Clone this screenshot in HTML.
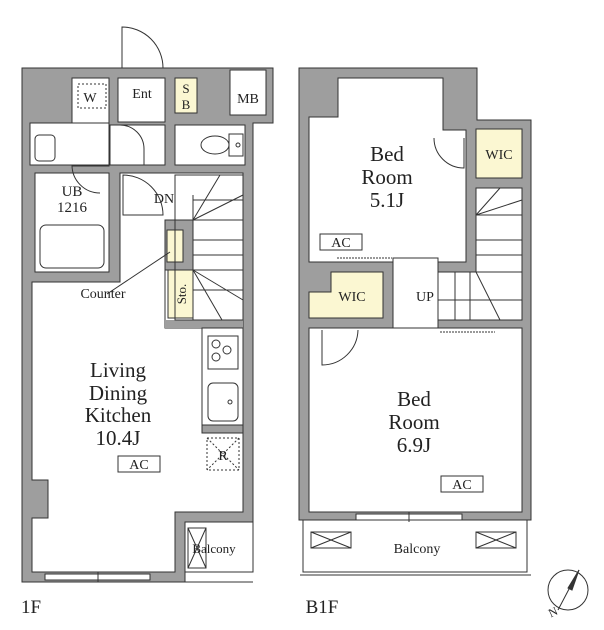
<!DOCTYPE html>
<html><head><meta charset="utf-8"><style>
html,body{margin:0;padding:0;background:#fff;}
svg{display:block;font-family:"Liberation Serif",serif;}
</style></head><body>
<svg width="604" height="630" viewBox="0 0 604 630" xmlns="http://www.w3.org/2000/svg">
<g stroke="#333" stroke-width="1">
<!-- 1F walls -->
<polygon points="22,68 273,68 273,123 253,123 253,522 185,522 185,582 22,582" fill="#9e9e9e"/>
<!-- rooms 1F -->
<rect x="72" y="78" width="37" height="88" fill="#fff"/>
<rect x="30" y="123" width="79" height="42" fill="#fff"/>
<rect x="118" y="78" width="47" height="44" fill="#fff"/>
<rect x="110" y="125" width="55" height="40" fill="#fff"/>
<rect x="175" y="78" width="22" height="35" fill="#fbf7d2"/>
<rect x="230" y="70" width="36" height="45" fill="#fff"/>
<rect x="175" y="125" width="70" height="40" fill="#fff"/>
<rect x="35" y="173" width="74" height="99" fill="#fff"/>
<polygon points="120,173 243,173 243,328 165,328 165,282 32,282 32,480 48,480 48,518 32,518 32,572 175,572 175,512 243,512 243,320 120,320" fill="#fff" stroke="none"/>
<polygon points="120,173 243,173 243,512 175,512 175,572 32,572 32,518 48,518 48,480 32,480 32,282 120,282" fill="#fff"/>
<rect x="165" y="220" width="28" height="50" fill="#9e9e9e"/>
<rect x="167" y="230" width="16" height="32" fill="#fbf7d2"/>
<rect x="168" y="270" width="25" height="48" fill="#fbf7d2"/>
<polyline points="165,270 165,328 243,328" fill="none"/>
<rect x="165" y="320" width="78" height="8" fill="#9e9e9e" stroke="none"/>
<rect x="202" y="328" width="41" height="97" fill="#fff"/>
<rect x="202" y="425" width="41" height="8" fill="#9e9e9e"/>
<rect x="208" y="336" width="30" height="33" fill="#fff"/>
<circle cx="216" cy="344" r="4" fill="none"/><circle cx="227" cy="350" r="4" fill="none"/><circle cx="216" cy="357" r="4" fill="none"/>
<rect x="208" y="383" width="30" height="38" rx="5" fill="#fff"/>
<circle cx="230" cy="402" r="2" fill="none"/>
<rect x="207" y="438" width="32" height="32" fill="none" stroke-dasharray="2,2"/>
<line x1="207" y1="438" x2="239" y2="470" stroke-dasharray="2,2"/><line x1="239" y1="438" x2="207" y2="470" stroke-dasharray="2,2"/>
<!-- balcony 1F -->
<rect x="185" y="522" width="68" height="50" fill="#fff"/>
<rect x="188" y="528" width="18" height="40" fill="none"/>
<line x1="188" y1="528" x2="206" y2="568"/><line x1="206" y1="528" x2="188" y2="568"/>
<line x1="185" y1="582" x2="253" y2="582"/>
<rect x="45" y="574" width="105" height="6" fill="#fff"/>
<line x1="98" y1="572" x2="98" y2="582"/>
<!-- UB tub -->
<rect x="40" y="225" width="64" height="43" rx="6" fill="#fff"/>
<rect x="35" y="135" width="20" height="26" rx="4" fill="#fff"/>
<rect x="78" y="84" width="28" height="24" fill="none" stroke-dasharray="2,2"/>
<!-- toilet -->
<ellipse cx="215" cy="145" rx="14" ry="9" fill="#fff"/>
<rect x="229" y="134" width="14" height="22" fill="#fff"/>
<circle cx="238" cy="145" r="2" fill="none"/>
<!-- doors 1F -->
<path d="M122,68 L122,27 A41,41 0 0 1 163,68" fill="none"/>
<path d="M120,125 A24,24 0 0 1 144,149" fill="none"/>
<path d="M144,149 L144,165" fill="none"/>
<path d="M123,215 L123,175 A40,40 0 0 1 163,215 Z" fill="none"/>
<path d="M72,165 A28,28 0 0 0 100,193" fill="none"/>
<!-- stairs 1F -->
<g fill="none">
<rect x="175" y="175" width="68" height="145"/>
<line x1="193" y1="200" x2="243" y2="200"/><line x1="193" y1="220" x2="243" y2="220"/>
<line x1="193" y1="240" x2="243" y2="240"/><line x1="193" y1="255" x2="243" y2="255"/>
<line x1="193" y1="270" x2="243" y2="270"/><line x1="193" y1="290" x2="243" y2="290"/>
<line x1="193" y1="220" x2="220" y2="175"/><line x1="193" y1="220" x2="243" y2="195"/>
<line x1="193" y1="270" x2="243" y2="300"/><line x1="193" y1="270" x2="222" y2="320"/>
<line x1="193" y1="195" x2="193" y2="320"/>
</g>
<!-- B1F -->
<polygon points="299,68 477,68 477,120 531,120 531,520 299,520" fill="#9e9e9e"/>
<polygon points="309,117 338,117 338,78 443,78 443,130 466,130 466,262 309,262" fill="#fff"/>
<rect x="476" y="129" width="46" height="49" fill="#fbf7d2"/>
<rect x="476" y="188" width="46" height="132" fill="#fff"/>
<rect x="393" y="258" width="45" height="72" fill="#fff"/>
<rect x="438" y="272" width="84" height="48" fill="#fff"/>
<polygon points="309,292 331,292 331,272 383,272 383,318 309,318" fill="#fbf7d2"/>
<rect x="309" y="328" width="213" height="184" fill="#fff"/>
<g fill="none">
<line x1="476" y1="215" x2="522" y2="215"/><line x1="476" y1="240" x2="522" y2="240"/>
<line x1="476" y1="255" x2="522" y2="255"/><line x1="476" y1="272" x2="522" y2="272"/>
<line x1="455" y1="272" x2="455" y2="320"/><line x1="470" y1="272" x2="470" y2="320"/>
<line x1="438" y1="300" x2="522" y2="300"/>
<line x1="476" y1="215" x2="500" y2="188"/><line x1="476" y1="215" x2="522" y2="200"/>
<line x1="476" y1="272" x2="500" y2="320"/>
<path d="M434,138 A30,30 0 0 0 464,168 L464,138"/>
<path d="M322,330 L322,365 A36,36 0 0 0 358,330"/>
<line x1="337" y1="258" x2="392" y2="258" stroke-dasharray="2,1"/>
<line x1="440" y1="332" x2="495" y2="332" stroke-dasharray="2,1"/>
</g>
<rect x="303" y="520" width="224" height="52" fill="#fff"/>
<line x1="300" y1="575" x2="531" y2="575"/>
<rect x="356" y="514" width="106" height="6" fill="#fff"/>
<line x1="409" y1="512" x2="409" y2="522"/>
<rect x="311" y="532" width="40" height="16" fill="none"/>
<line x1="311" y1="532" x2="351" y2="548"/><line x1="351" y1="532" x2="311" y2="548"/>
<rect x="476" y="532" width="40" height="16" fill="none"/>
<line x1="476" y1="532" x2="516" y2="548"/><line x1="516" y1="532" x2="476" y2="548"/>
<!-- labels boxes -->
<rect x="118" y="456" width="42" height="16" fill="none"/>
<rect x="320" y="234" width="42" height="16" fill="none"/>
<rect x="441" y="476" width="42" height="16" fill="none"/>
<line x1="107" y1="294" x2="170" y2="252"/>
<!-- compass -->
<circle cx="568" cy="590" r="20" fill="#fff"/>
<line x1="558" y1="610" x2="579" y2="570"/>
<polygon points="579,570 572,590 568,588" fill="#333"/>
</g>
<g fill="#222" text-anchor="middle">
<text x="90" y="102" font-size="14">W</text>
<text x="142" y="98" font-size="14">Ent</text>
<text x="186" y="93" font-size="13">S</text><text x="186" y="109" font-size="13">B</text>
<text x="248" y="103" font-size="14">MB</text>
<text x="72" y="196" font-size="15">UB</text><text x="72" y="212" font-size="15">1216</text>
<text x="164" y="203" font-size="14">DN</text>
<text x="103" y="298" font-size="14">Counter</text>
<text x="186" y="294" font-size="13" transform="rotate(-90 186 294)">Sto.</text>
<text x="118" y="377" font-size="21">Living</text>
<text x="118" y="400" font-size="21">Dining</text>
<text x="118" y="422" font-size="21">Kitchen</text>
<text x="118" y="445" font-size="21">10.4J</text>
<text x="139" y="469" font-size="14">AC</text>
<text x="223" y="460" font-size="14">R</text>
<text x="214" y="553" font-size="13">Balcony</text>
<text x="387" y="161" font-size="21">Bed</text>
<text x="387" y="184" font-size="21">Room</text>
<text x="387" y="207" font-size="21">5.1J</text>
<text x="341" y="247" font-size="14">AC</text>
<text x="499" y="159" font-size="14">WIC</text>
<text x="352" y="301" font-size="14">WIC</text>
<text x="425" y="301" font-size="14">UP</text>
<text x="414" y="406" font-size="21">Bed</text>
<text x="414" y="429" font-size="21">Room</text>
<text x="414" y="452" font-size="21">6.9J</text>
<text x="462" y="489" font-size="14">AC</text>
<text x="417" y="553" font-size="14">Balcony</text>
<text x="31" y="613" font-size="19">1F</text>
<text x="322" y="613" font-size="19">B1F</text>
<text x="553" y="616" font-size="12" transform="rotate(-25 553 612)">N</text>
</g>
</svg>
</body></html>
